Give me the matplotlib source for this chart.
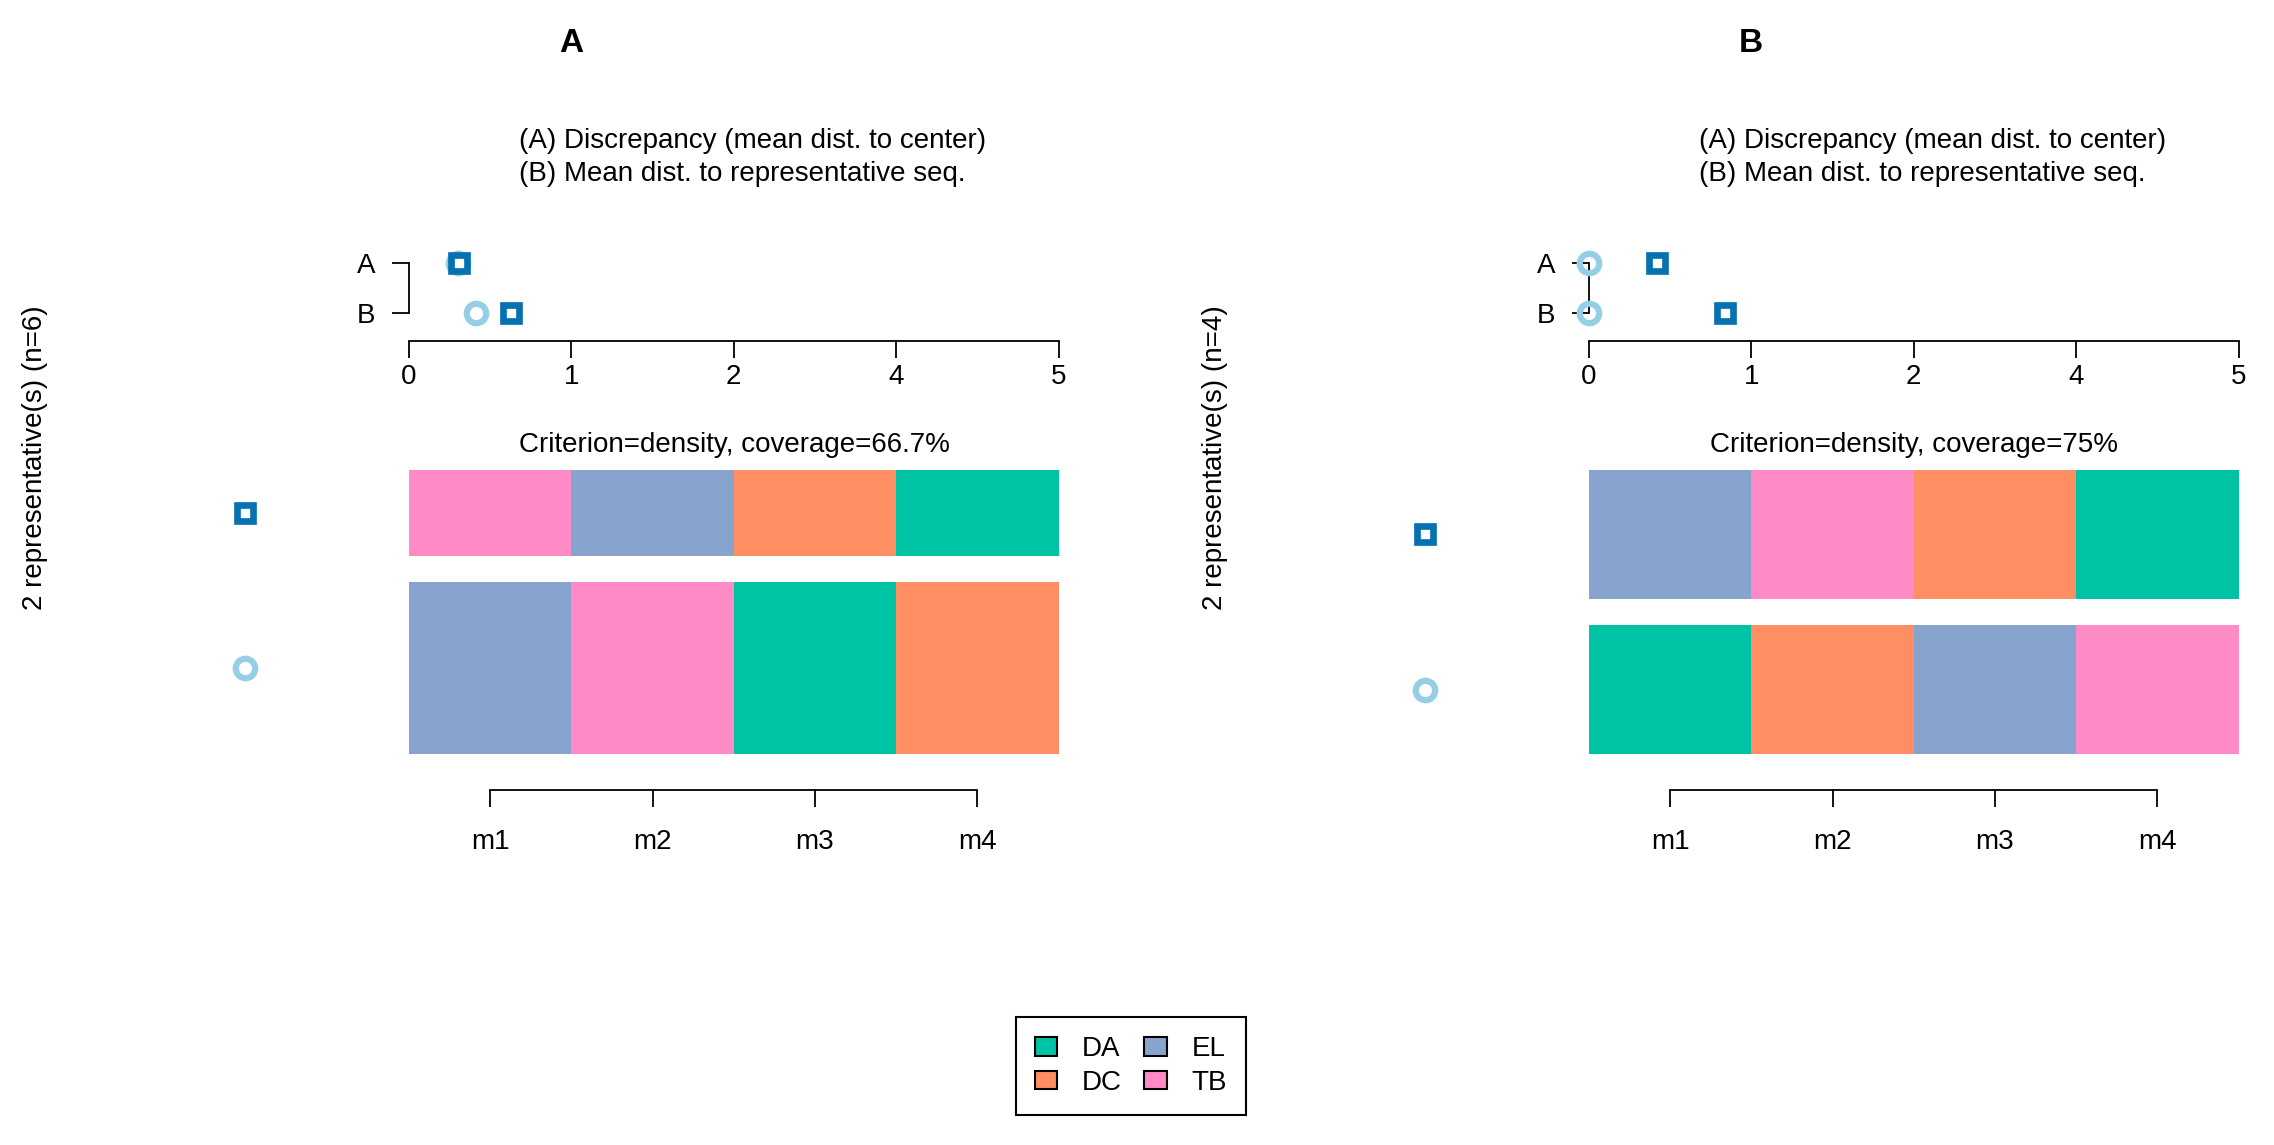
import matplotlib
matplotlib.use('Agg')
import matplotlib.pyplot as plt
from matplotlib.patches import Patch

plt.rcParams['font.family'] = ['Liberation Sans', 'DejaVu Sans']

# estados e cores
states = ['DA', 'DC', 'EL', 'TB']
state_colors = ['#00C2A5', '#FF8F62', '#87A4CE', '#FF8BC6']
time_labels = ['m1', 'm2', 'm3', 'm4']

# eixo de distancias (rotulos do grafico original)
dist_ticks = [0, 1, 2, 3, 4]
dist_labels = ['0', '1', '2', '4', '5']

# painel A
titleA = 'A'
seqA = [['TB', 'EL', 'DC', 'DA'],
        ['EL', 'TB', 'DA', 'DC']]
weightsA = [1, 2]
# linhas A (discrepancia) e B (dist. media ao representante)
meandistA = {'sq': [0.31, 0.63], 'ci': [0.30, 0.41]}
coverageA = 'Criterion=density, coverage=66.7%'
ylabA = '2 representative(s) (n=6)'

# painel B
titleB = 'B'
seqB = [['EL', 'TB', 'DC', 'DA'],
        ['DA', 'DC', 'EL', 'TB']]
weightsB = [1, 1]
meandistB = {'sq': [0.42, 0.84], 'ci': [0.0, 0.0]}
coverageB = 'Criterion=density, coverage=75%'
ylabB = '2 representative(s) (n=4)'

dark = '#0571B0'
light = '#96CEE6'

W, H = 2274, 1145
FS = 20


def box(x0, y0, x1, y1):
    return [x0 / W, 1 - y1 / H, (x1 - x0) / W, (y1 - y0) / H]


fig = plt.figure(figsize=(W / 100, H / 100), dpi=100)


def marcadores(ax, xs, ys, kind):
    if kind == 'ci':
        ax.plot(xs, ys, 'o', ms=14, mfc='none', mec=light, mew=4.5,
                clip_on=False, zorder=3)
    else:
        ax.plot(xs, ys, 's', ms=11, mfc='white', mec=dark, mew=4.8,
                clip_on=False, zorder=4)


def painel(dx, title, seqs, weights, dists, coverage, ylab):
    # titulo e legenda das medidas
    fig.text((571 + dx) / W, 1 - 44 / H, title, ha='center', va='center',
             fontsize=24, fontweight='bold')
    fig.text((519 + dx) / W, 1 - 141 / H, '(A) Discrepancy (mean dist. to center)',
             ha='left', va='center', fontsize=FS)
    fig.text((519 + dx) / W, 1 - 174 / H, '(B) Mean dist. to representative seq.',
             ha='left', va='center', fontsize=FS)
    fig.text((35 + dx) / W, 1 - 458 / H, ylab, rotation=90, ha='center',
             va='center', fontsize=FS)

    # grafico de distancias
    ax = fig.add_axes(box(409 + dx, 247, 1058.5 + dx, 341))
    ax.set_xlim(0, 4)
    ax.set_ylim(-0.55, 1.307)
    for s in ['top', 'right']:
        ax.spines[s].set_visible(False)
    ax.spines['left'].set_bounds(0, 1)
    ax.spines['bottom'].set_bounds(0, 4)
    for s in ['left', 'bottom']:
        ax.spines[s].set_linewidth(1.3)
    ax.set_xticks(dist_ticks)
    ax.set_xticklabels(dist_labels)
    ax.set_yticks([0, 1])
    ax.set_yticklabels(['B', 'A'])
    ax.tick_params(axis='x', length=12, width=1.3, pad=4.5, labelsize=FS)
    ax.tick_params(axis='y', length=12, width=1.3, pad=12, labelsize=FS)
    ax.patch.set_visible(False)
    rows = [1, 0]
    marcadores(ax, dists['ci'], rows, 'ci')
    marcadores(ax, dists['sq'], rows, 'sq')

    # sequencias representativas
    bx = fig.add_axes(box(409 + dx, 470, 1058.5 + dx, 754))
    bx.set_xlim(0, 4)
    bx.set_ylim(0, 1)
    gap = 0.093
    tot = sum(weights)
    top = 1.0
    centers = []
    for seq, w in zip(seqs, weights):
        h = (1 - gap) * w / tot
        b = top - h
        for i, st in enumerate(seq):
            bx.bar(i, h, bottom=b, width=1, align='edge',
                   color=state_colors[states.index(st)], linewidth=0)
        centers.append(b + h / 2)
        top = b - gap
    marcadores(bx, [-1.01], [centers[0]], 'sq')
    marcadores(bx, [-1.01], [centers[1]], 'ci')
    for s in ['top', 'right', 'left']:
        bx.spines[s].set_visible(False)
    bx.spines['bottom'].set_position(('outward', 26))
    bx.spines['bottom'].set_bounds(0.5, 3.5)
    bx.spines['bottom'].set_linewidth(1.3)
    bx.set_yticks([])
    bx.set_xticks([0.5, 1.5, 2.5, 3.5])
    bx.set_xticklabels(time_labels)
    bx.tick_params(axis='x', length=12, width=1.3, pad=16, labelsize=FS)
    fig.text((734 + dx) / W, 1 - 445 / H, coverage, ha='center', va='center',
             fontsize=FS)


painel(0, titleA, seqA, weightsA, meandistA, coverageA, ylabA)
painel(1180, titleB, seqB, weightsB, meandistB, coverageB, ylabB)

handles = [Patch(facecolor=c, edgecolor='black', linewidth=1.5) for c in state_colors]
leg = fig.legend(handles, states, ncol=2, loc='center',
                 bbox_to_anchor=(1131 / W, 1 - 1066 / H), fontsize=FS,
                 frameon=True, fancybox=False, edgecolor='black', framealpha=1,
                 handlelength=0.8, handleheight=0.65, handletextpad=0.9,
                 columnspacing=0.8, labelspacing=0.28, borderpad=0.68)
leg.get_frame().set_linewidth(1.5)

fig.savefig('out.png', dpi=100)
